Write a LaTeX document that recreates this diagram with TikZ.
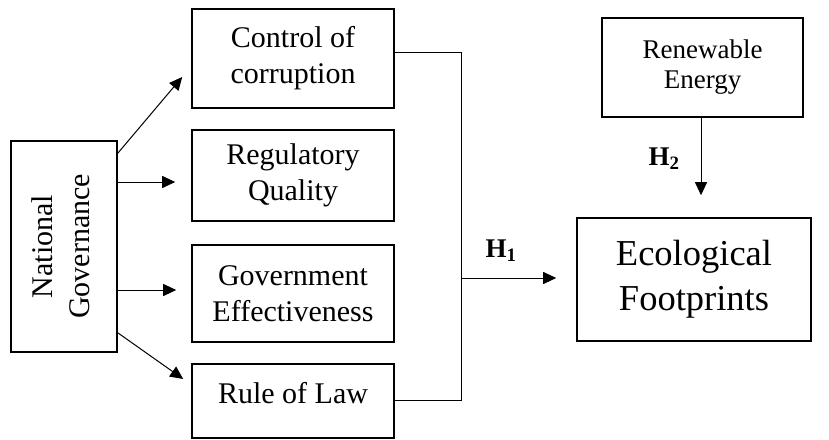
\documentclass[tikz,border=0pt]{standalone}
\usepackage{fontspec}
\setmainfont{Liberation Serif}
\usetikzlibrary{arrows.meta}
\begin{document}
\begin{tikzpicture}[x=1pt, y=-1pt,
	box/.style={draw, line width=1.6pt, align=center, inner sep=0pt, font=\fontsize{30}{36}\selectfont},
	link/.style={line width=1pt},
	arr/.style={line width=1pt, -{Triangle[length=13pt, width=12pt]}},
	hyp/.style={font=\fontsize{27}{30}\selectfont\bfseries}]
	\useasboundingbox (0,0) rectangle (829,439);
	
	\node[box, minimum width=106pt, minimum height=211pt] (gov) at (64,246.5)
		{\rotatebox{90}{\begin{tabular}{@{}c@{}}National\\[1pt]Governance\end{tabular}}};
	
	\node[box, minimum width=202pt, minimum height=99pt] (ctrl) at (293,58.5) {Control of\\corruption};
	\node[box, minimum width=202pt, minimum height=91pt] (reg) at (293,175.5) {Regulatory\\Quality};
	\node[box, minimum width=202pt, minimum height=97pt] (geff) at (293,293.5) {Government\\Effectiveness};
	\node[box, minimum width=202pt, minimum height=74pt, text depth=16pt] (rule) at (293,401) {Rule of Law};
	
	\node[box, minimum width=201pt, minimum height=99pt, font=\fontsize{27}{30}\selectfont] (ren) at (702.5,67.5) {Renewable\\Energy};
	\node[box, minimum width=234pt, minimum height=123pt, font=\fontsize{36.5}{45}\selectfont] (eco) at (694,279.5) {Ecological\\Footprints};
	
	\draw[arr] ([yshift=-13pt]gov.north east) -- ([xshift=-9pt, yshift=-18.5pt]ctrl.west);
	\draw[arr] ([yshift=-6.5pt]gov.east |- reg.west) -- ([xshift=-16pt, yshift=-6.5pt]reg.west);
	\draw[arr] ([yshift=3.5pt]gov.east |- geff.west) -- ([xshift=-15pt, yshift=3.5pt]geff.west);
	\draw[arr] ([yshift=20pt]gov.south east) -- ([xshift=-8pt, yshift=22pt]rule.west);
	
	\coordinate (join) at (461,278);
	\draw[link] ([yshift=6.5pt]ctrl.east) -- ([yshift=6.5pt]join |- ctrl.east) -- ([yshift=1pt]join |- rule.east) -- ([yshift=1pt]rule.east);
	\draw[arr, shorten >=20pt] (join) -- (eco.west |- join);
	\node[hyp] (h1) at (501,251) {H\textsubscript{1}};
	
	\draw[arr, shorten >=22pt] ([xshift=-1.5pt]ren.south) -- ([xshift=-1.5pt]ren.south |- eco.north);
	\node[hyp] (h2) at (664,159) {H\textsubscript{2}};
\end{tikzpicture}
\end{document}
